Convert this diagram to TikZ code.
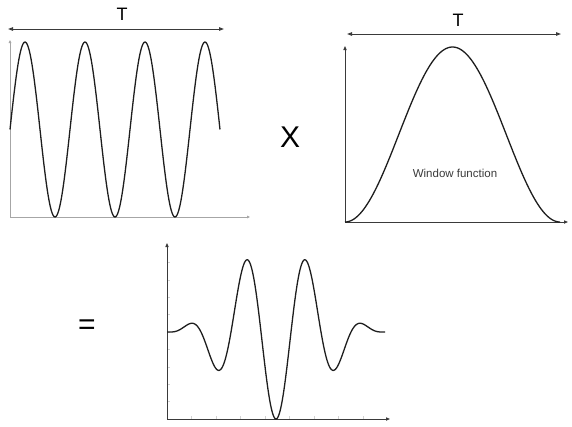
\documentclass[tikz,border=0pt]{standalone}
\usepackage{fontspec}
\setmainfont{Liberation Sans}
\usetikzlibrary{arrows.meta}
\definecolor{wvInk}  {HTML}{1E1E1E}
\definecolor{wvAxis} {HTML}{3A3A3A}
\definecolor{wvPale} {HTML}{A6A6A6}
\definecolor{wvTick} {HTML}{D2D2D2}

\begin{document}
\begin{tikzpicture}[x=1pt,y=-1pt,
    curve/.style={draw=wvInk,line width=1.3pt,line join=round},
    axis/.style={draw=wvAxis,line width=0.9pt,-{Triangle[length=4pt,width=3.2pt]}},
    paleaxis/.style={draw=wvPale,line width=0.9pt,-{Triangle[length=3pt,width=2.6pt]}},
    span/.style={draw=wvAxis,line width=0.9pt,{Triangle[length=5pt,width=3.5pt]}-{Triangle[length=5pt,width=3.5pt]}},
    big/.style={font=\fontsize{30}{30}\selectfont,inner sep=0pt},
    tlabel/.style={font=\fontsize{18}{18}\selectfont,inner sep=0pt}]
  \useasboundingbox (0,0) rectangle (572,426);

  % --- signal ---
  \coordinate (o1) at (10,217);
  \coordinate (y1) at (10,40);
  \coordinate (x1) at (250,217);
  \draw[paleaxis] (o1) -- (y1);
  \draw[paleaxis] (o1) -- (x1);
  \draw[curve] plot[domain=10:220,samples=220,smooth] (\x,{129.5-87.5*sin(6*(\x-10))});
  \coordinate (s1a) at (8,29);
  \coordinate (s1b) at (224,29);
  \draw[span] (s1a) -- (s1b);
  \node[tlabel] (t1) at (122,14) {T};

  \node[big] (times) at (290,137) {X};

  % --- window ---
  \coordinate (o2) at (345,222);
  \coordinate (y2) at (345,46);
  \coordinate (x2) at (568,222);
  \draw[axis] (o2) -- (y2);
  \draw[axis] (o2) -- (x2);
  \draw[curve] plot[domain=345:560,samples=160,smooth] (\x,{222-87.5*(1-cos(1.67442*(\x-345)))});
  \coordinate (s2a) at (347,34);
  \coordinate (s2b) at (561,34);
  \draw[span] (s2a) -- (s2b);
  \node[tlabel] (t2) at (458,20) {T};
  \node[font=\fontsize{11.5}{12}\selectfont,text=wvAxis] (win) at (455,173) {Window function};

  \node[big] (equals) at (87,327) {=};

  % --- product ---
  \coordinate (o3) at (167,419);
  \coordinate (y3) at (167,243);
  \coordinate (x3) at (390,419);
  \foreach \k in {1,...,9}
    \draw[wvTick,line width=0.6pt] (167,419-17.4*\k) -- ++(3,0);
  \foreach \k in {1,...,8}
    \draw[wvTick,line width=0.6pt] (167+24.5*\k,419) -- ++(0,-3);
  \draw[axis] (o3) -- (y3);
  \draw[axis] (o3) -- (x3);
  \draw[curve] plot[domain=167:385,samples=260,smooth] (\x,{332+87*cos(6*(\x-276))*pow(cos(0.825688*(\x-276)),2)});
\end{tikzpicture}
\end{document}
